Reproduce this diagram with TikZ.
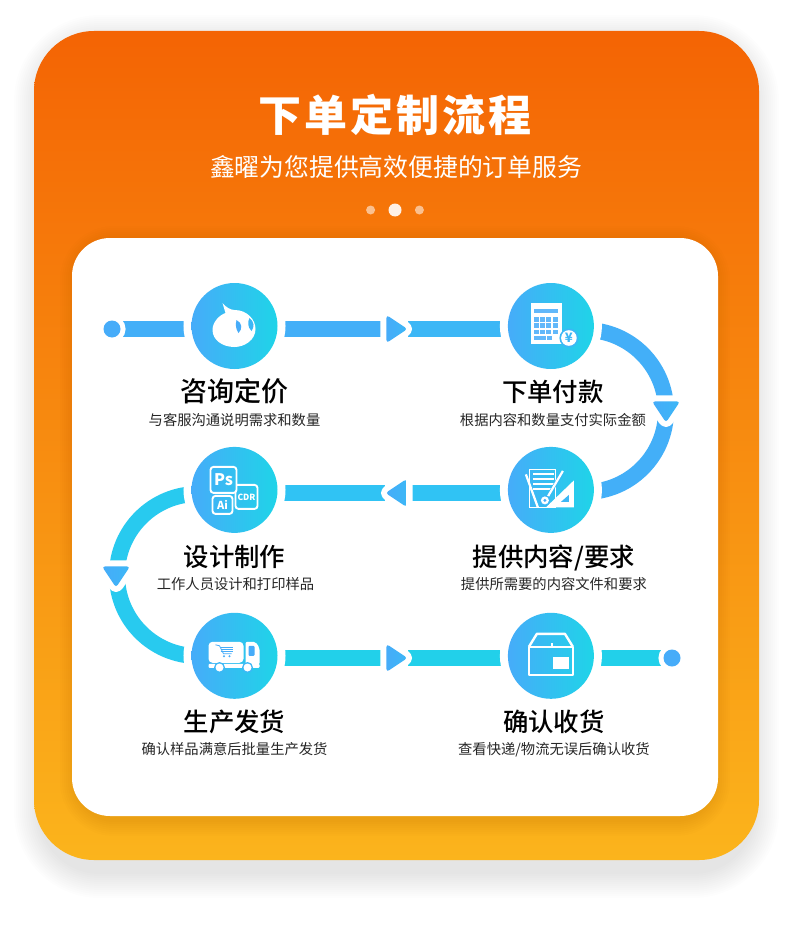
\documentclass[tikz,border=0pt]{standalone}
\usepackage{fontspec}
\usetikzlibrary{positioning}
\usetikzlibrary{backgrounds}
\usetikzlibrary{shapes.geometric}
\newfontfamily\cjk{Noto Sans CJK SC}
\newfontfamily\cjkmid{Noto Sans CJK SC Medium}
\newfontfamily\cjkhead[LetterSpace=7]{Noto Sans CJK SC}
\definecolor{cardtop}{HTML}{F46404}
\definecolor{cardbot}{HTML}{FBB41C}
\definecolor{flowblue}{HTML}{46ACF9}
\definecolor{flowcyan}{HTML}{1FD4E8}
\definecolor{barone}{HTML}{43AFF8}
\definecolor{bartwo}{HTML}{3CB7F6}
\definecolor{barthree}{HTML}{30C3F4}
\definecolor{barfour}{HTML}{28CAEF}
\definecolor{barfive}{HTML}{22D0EA}
\tikzset{
  stepcircle/.style={circle, minimum size=86pt, inner sep=0pt, left color=flowblue, right color=flowcyan,
    preaction={draw=white, line width=16pt}},
  flowbar/.style={line width=16pt},
  flowtip/.style={isosceles triangle, isosceles triangle stretches, minimum width=28pt, minimum height=21pt,
    inner sep=0pt, rounded corners=3pt, left color=flowblue, right color=bartwo, line join=round,
    preaction={draw=white, line width=12pt}},
  enddot/.style={circle, minimum size=17pt, inner sep=0pt, fill=flowblue, preaction={draw=white, line width=10pt}},
  steptitle/.style={inner sep=0pt, text height=21.5pt, text depth=3.9pt, text=black,
    font=\cjkmid\fontsize{25.4}{26}\selectfont},
  stepnote/.style={inner sep=0pt, text height=12pt, text depth=2.3pt, text=black!85,
    font=\cjk\fontsize{14.3}{15}\selectfont},
  dotmark/.style={circle, inner sep=0pt, fill=white},
  iconline/.style={white, line width=1.9pt},
}
\begin{document}
\begin{tikzpicture}[x=1pt, y=1pt, node distance=230pt]
  \useasboundingbox (0,0) rectangle (790,-928);

  % header
  \node (headline) [inner sep=0pt, text=white, font=\cjkhead\fontsize{43}{44}\selectfont\bfseries] at (395,-115) {下单定制流程};
  \node (subline) [inner sep=0pt, text=white, font=\cjk\fontsize{24.8}{25}\selectfont] at (396,-167) {鑫曜为您提供高效便捷的订单服务};
  \node (dotb) [dotmark, minimum size=13pt, opacity=.9] at (395,-210) {};
  \node (dota) [dotmark, minimum size=9pt, opacity=.55, left=13pt of dotb] {};
  \node (dotc) [dotmark, minimum size=9pt, opacity=.55, right=13pt of dotb] {};

  % steps
  \node (consult) [stepcircle] at (234.5,-326) {};
  \node (pay) [stepcircle, right=of consult] {};
  \node (content) [stepcircle, below=77.5pt of pay] {};
  \node (design) [stepcircle, left=of content] {};
  \node (ship) [stepcircle, below=79.5pt of design] {};
  \node (confirm) [stepcircle, right=of ship] {};

  % labels
  \node (consultname) [steptitle, below=11pt of consult, font=\cjkmid\fontsize{27}{27}\selectfont] {咨询定价};
  \node (consultnote) [stepnote, below=7pt of consultname] {与客服沟通说明需求和数量};
  \node (payname) [steptitle, below=11pt of pay, xshift=2pt] {下单付款};
  \node (paynote) [stepnote, below=7pt of payname] {根据内容和数量支付实际金额};
  \node (contentname) [steptitle, below=11.5pt of content, xshift=3pt] {提供内容/要求};
  \node (contentnote) [stepnote, below=7pt of contentname] {提供所需要的内容文件和要求};
  \node (designname) [steptitle, below=11.5pt of design] {设计制作};
  \node (designnote) [stepnote, below=7pt of designname, xshift=1pt] {工作人员设计和打印样品};
  \node (shipname) [steptitle, below=11pt of ship] {生产发货};
  \node (shipnote) [stepnote, below=6.5pt of shipname] {确认样品满意后批量生产发货};
  \node (confirmname) [steptitle, below=11pt of confirm, xshift=3pt] {确认收货};
  \node (confirmnote) [stepnote, below=6.5pt of confirmname] {查看快递/物流无误后确认收货};

  % flow ends and tips
  \node (startdot) [enddot] at (112,-329) {};
  \node (enddot) [enddot] at (672,-658) {};
  \node (tipa) [flowtip, anchor=apex] at (408,-329) {};
  \node (tipb) [flowtip, shape border rotate=-90, anchor=apex] at (666,-423) {};
  \node (tipc) [flowtip, shape border rotate=180, anchor=apex] at (385,-493) {};
  \node (tipd) [flowtip, shape border rotate=-90, anchor=apex] at (116,-588) {};
  \node (tipe) [flowtip, anchor=apex] at (408,-658) {};
  \coordinate (rightbend) at (585,-411);
  \coordinate (leftbend) at (198,-575);

  \begin{scope}[on background layer]
    \foreach \grow in {2,4,...,26}
      \fill[black, opacity=.007, rounded corners=60pt+\grow pt] ({34-\grow+6},{-31-10+\grow}) rectangle ({759+\grow-6},{-860-12-\grow});
    \shade[top color=cardtop, bottom color=cardbot, rounded corners=60pt] (34,-31) rectangle (759,-860);
    \foreach \grow in {2,4,...,16}
      \fill[black, opacity=.007, rounded corners=38pt+\grow pt] ({72-\grow+4},{-238-4+\grow}) rectangle ({718+\grow-4},{-816-4-\grow});
    \fill[white, rounded corners=38pt] (72,-238) rectangle (718,-816);

    \draw[flowbar, barone] (startdot) -- (startdot -| consult);
    \draw[flowbar, barone] (startdot -| consult) -- (tipa.lower side);
    \draw[flowbar, bartwo] (tipa.apex) -- (tipa.apex -| pay);
    \draw[flowbar, barone] (rightbend) ++(0,81) arc[start angle=90, end angle=0, radius=81pt];
    \draw[flowbar, barone] (rightbend) ++(81,0) arc[start angle=0, end angle=-90, radius=81pt];
    \draw[flowbar, barthree] (tipc.apex -| content) -- (tipc.lower side);
    \draw[flowbar, barthree] (tipc.apex) -- (tipc.apex -| design);
    \draw[flowbar, barfour] (leftbend) ++(0,81) arc[start angle=90, end angle=180, radius=81pt];
    \draw[flowbar, barfour] (leftbend) ++(-81,0) arc[start angle=180, end angle=270, radius=81pt];
    \draw[flowbar, barfive] (tipe.apex -| ship) -- (tipe.lower side);
    \draw[flowbar, barfive] (tipe.apex) -- (tipe.apex -| confirm);
    \draw[flowbar, barfive] (enddot -| confirm) -- (enddot);
  \end{scope}

  % consult icon
  \begin{scope}[shift={(consult.center)}, y=-1pt]
    \fill[white] (-12,-23) .. controls (-9,-19) and (-4,-16) .. (0,-16) .. controls (13,-16) and (21,-6) .. (21,3)
      .. controls (21,14) and (10,21) .. (0,21) .. controls (-12,21) and (-22,14) .. (-22,4)
      .. controls (-22,-4) and (-15,-11) .. (-9,-13) .. controls (-10,-16) and (-11,-20) .. (-12,-23);
    \fill[flowblue] (2,-6) .. controls (8,-3) and (8,3) .. (4,7) .. controls (1,3) and (1,-2) .. (2,-6);
    \fill[bartwo] (15,-8) .. controls (20,-4) and (20,1) .. (17,5) .. controls (13,1) and (13,-4) .. (15,-8);
  \end{scope}

  % pay icon
  \begin{scope}[shift={(pay.center)}, y=-1pt]
    \fill[white] (-20,-23) rectangle (11,18);
    \fill[flowblue!85!white] (-17,-17) rectangle (7,-13);
    \foreach \kx in {-17,-10.8,-4.6,1.6}
      \foreach \ky in {-9,-2.7,3.6}
        \fill[flowblue!85!white] (\kx,\ky) rectangle ({\kx+5},{\ky+4.5});
    \fill[flowblue!85!white] (-17,9.9) rectangle (-5,14.4);
    \fill[flowblue!85!white] (-3.5,9.9) rectangle (1,14.4);
    \fill[bartwo] (18,12) circle (9.5);
    \fill[white] (18,12) circle (7.8);
    \node (yuan) [inner sep=0pt, text=bartwo, font=\cjk\fontsize{13}{13}\selectfont\bfseries] at (18,12) {¥};
  \end{scope}

  % content icon
  \begin{scope}[shift={(content.center)}, y=-1pt]
    \draw[iconline, line width=.9pt] (-21,-20) rectangle (5,18);
    \foreach \ly in {-16,-11,-6,-1}
      \draw[iconline, line width=1.2pt] (-18,\ly) -- (3,\ly);
    \fill[white] (23,-9.5) -- (23,17.5) -- (-5,17.5) -- cycle;
    \fill[bartwo] (10,12) -- (18,5) -- (18,12) -- cycle;
    \draw[bartwo, line width=3.5pt] (11,-17) -- (-5,10);
    \draw[iconline, line width=2.2pt] (-25,-15.5) -- (-13,17.5);
    \draw[iconline, line width=2.2pt] (12,-19) -- (-5,10);
    \fill[bartwo] (-6,10.5) circle (5.5);
    \fill[white] (-6,10.5) circle (4);
    \fill[flowblue] (-6,10.5) circle (1.6);
  \end{scope}

  % design icon
  \begin{scope}[shift={(design.center)}, y=-1pt]
    \draw[iconline, rounded corners=3pt] (-24,-23) rectangle (2,3);
    \draw[iconline, rounded corners=3pt] (2,-5) -- (23,-5) -- (23,19) -- (1,19) -- (1,3);
    \draw[iconline, rounded corners=3pt] (-22,6) rectangle (-2,24);
    \node (psmark) [inner sep=0pt, text=white, font=\cjk\fontsize{16}{16}\selectfont\bfseries] at (-11,-10) {Ps};
    \node (cdrmark) [inner sep=0pt, text=white, font=\cjk\fontsize{8.5}{9}\selectfont\bfseries] at (12,7) {CDR};
    \node (aimark) [inner sep=0pt, text=white, font=\cjk\fontsize{11}{11}\selectfont\bfseries] at (-12,15) {Ai};
  \end{scope}

  % ship icon
  \begin{scope}[shift={(ship.center)}, y=-1pt]
    \fill[white, rounded corners=4pt] (-26,-14) rectangle (9,7);
    \fill[white, rounded corners=2pt] (11,-14) -- (21,-14) -- (25,-8) -- (25,9) -- (11,9) -- cycle;
    \fill[white, rounded corners=1pt] (-26,8) rectangle (25,12);
    \fill[flowblue, rounded corners=1pt] (14,-10) rectangle (20,0);
    \fill[bartwo] (-15,11.7) circle (5.5);
    \fill[white] (-15,11.7) circle (4);
    \fill[bartwo] (13,11.7) circle (5.5);
    \fill[white] (13,11.7) circle (4);
    \draw[flowblue, line width=.8pt] (-19,-11) -- (-15,-10) -- (-11,-2) -- (-3,-2);
    \foreach \ly in {-8,-6,-4}
      \draw[flowblue, line width=.9pt] (-14,\ly) -- (-2,\ly);
    \fill[flowblue] (-10.5,0.5) circle (1.1);
    \fill[flowblue] (-5,0.5) circle (1.1);
  \end{scope}

  % confirm icon
  \begin{scope}[shift={(confirm.center)}, y=-1pt]
    \draw[iconline, line width=2.4pt, line join=round] (-22,-9) rectangle (22,19);
    \draw[iconline, line width=2.4pt, line join=round] (-22,-9) -- (-14,-22) -- (14,-22) -- (22,-9);
    \draw[iconline, line width=1.6pt] (1,-9) -- (1,-13);
    \fill[white] (2,1) rectangle (18,13);
  \end{scope}
\end{tikzpicture}
\end{document}
